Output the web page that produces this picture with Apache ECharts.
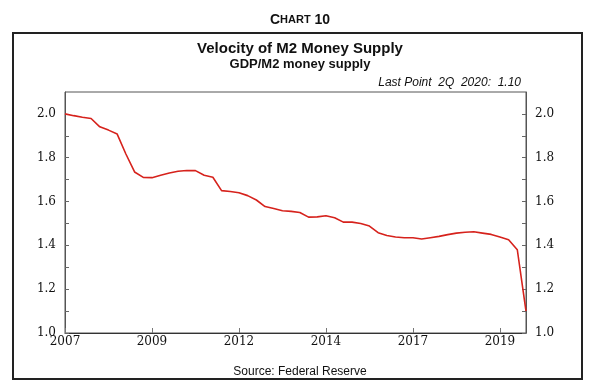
<!DOCTYPE html>
<html>
<head>
<meta charset="utf-8">
<script src="https://cdn.jsdelivr.net/npm/echarts@6/dist/echarts.min.js"></script>
<style>html,body{margin:0;padding:0;background:#fff}#c{width:600px;height:392px}</style>
</head>
<body>
<div id="c"></div>
<script>
// Quarterly categories 2007Q1 .. 2020Q2
const quarters = [];
for (let y = 2007; y <= 2020; y++) {
  for (let q = 1; q <= 4; q++) {
    if (y === 2020 && q > 2) break;
    quarters.push(y + 'Q' + q);
  }
}
// Velocity of M2 (GDP / M2)
const velocity = [
  2.000, 1.992, 1.985, 1.979, 1.941, 1.926, 1.908, 1.817, 1.735, 1.710,
  1.709, 1.720, 1.730, 1.738, 1.742, 1.741, 1.720, 1.711, 1.650, 1.646,
  1.640, 1.627, 1.607, 1.577, 1.568, 1.558, 1.555, 1.550, 1.529, 1.530,
  1.535, 1.526, 1.506, 1.506, 1.500, 1.488, 1.458, 1.445, 1.438, 1.435,
  1.435, 1.429, 1.435, 1.441, 1.449, 1.456, 1.460, 1.462, 1.456, 1.450,
  1.438, 1.426, 1.380, 1.100
];
const yTickLabels = ['1.0', '1.2', '1.4', '1.6', '1.8', '2.0'];

const chart = echarts.init(document.getElementById('c'), null, {renderer: 'canvas'});
const sans = '"Liberation Sans", Arial, sans-serif';
const serif = '"DejaVu Serif", serif';

function yFmt(v) {
  const s = v.toFixed(1);
  return yTickLabels.indexOf(s) >= 0 ? s : '';
}
const yAxisBase = {
  type: 'value', min: 1.0, max: 2.1, interval: 0.1,
  splitLine: {show: false},
  axisLine: {show: true, lineStyle: {color: '#555', width: 1}},
  axisTick: {show: true, inside: true, length: 4, lineStyle: {color: '#666'}},
  axisLabel: {
    formatter: yFmt, showMaxLabel: false,
    fontFamily: serif, fontSize: 12, color: '#111',
    verticalAlign: 'middle', padding: [0, 0, 7, 0], margin: 9
  }
};

chart.setOption({
  animation: false,
  backgroundColor: '#fff',
  title: [
    {
      text: '{a|C}{b|HART}{a| 10}',
      left: 'center', top: 8,
      textStyle: {rich: {
        a: {fontFamily: sans, fontSize: 14, fontWeight: 'bold', color: '#111'},
        b: {fontFamily: sans, fontSize: 11, fontWeight: 'bold', color: '#111'}
      }}
    },
    {
      text: 'Velocity of M2 Money Supply',
      left: 'center', top: 36,
      textStyle: {fontFamily: sans, fontSize: 15, fontWeight: 'bold', color: '#111'}
    },
    {
      text: 'GDP/M2 money supply',
      left: 'center', top: 53,
      textStyle: {fontFamily: sans, fontSize: 13, fontWeight: 'bold', color: '#111'}
    },
    {
      text: 'Last Point  2Q  2020:  1.10',
      right: 74, top: 72,
      textStyle: {fontFamily: sans, fontSize: 12, fontStyle: 'italic', fontWeight: 'normal', color: '#111'}
    },
    {
      text: 'Source: Federal Reserve',
      left: 'center', top: 361,
      textStyle: {fontFamily: sans, fontSize: 12, fontWeight: 'normal', color: '#111'}
    }
  ],
  graphic: [{
    type: 'rect', shape: {x: 13, y: 33, width: 569, height: 346},
    style: {fill: 'none', stroke: '#222', lineWidth: 2}, silent: true
  }],
  grid: {left: 65, right: 74, top: 92, bottom: 59, show: true, borderColor: '#555', borderWidth: 1},
  xAxis: {
    type: 'category', data: quarters, boundaryGap: false,
    axisLine: {lineStyle: {color: '#333', width: 1}},
    axisTick: {show: true, inside: true, length: 5, interval: 9, lineStyle: {color: '#777'}},
    axisLabel: {
      interval: 9, formatter: v => v.slice(0, 4),
      fontFamily: serif, fontSize: 12, color: '#111', margin: 3
    }
  },
  yAxis: [
    Object.assign({}, yAxisBase, {position: 'left'}),
    Object.assign({}, yAxisBase, {position: 'right'})
  ],
  series: [{
    type: 'line', data: velocity, yAxisIndex: 0,
    showSymbol: false, symbol: 'none',
    lineStyle: {color: '#d6221c', width: 1.6}
  }]
});
</script>
</body>
</html>
